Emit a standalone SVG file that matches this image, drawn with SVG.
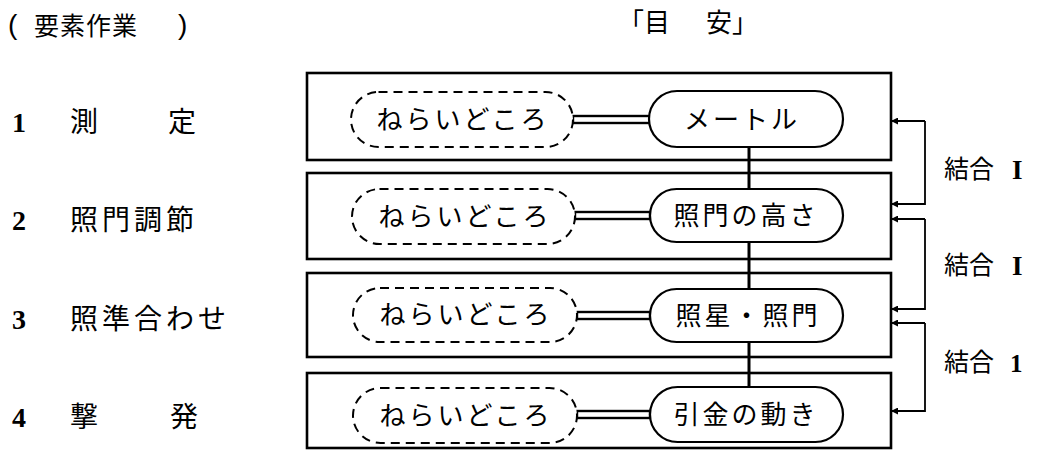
<svg xmlns="http://www.w3.org/2000/svg" width="1042" height="459" viewBox="0 0 1042 459">
<style>
.box{fill:none;stroke:#000;stroke-width:2.6}
.pill{fill:#fff;stroke:#000;stroke-width:2.2}
.dpill{fill:#fff;stroke:#000;stroke-width:2;stroke-dasharray:9 6}
.t{font-family:"Noto Sans CJK JP","Noto Sans CJK SC",sans-serif;fill:#000}
.pt{font-size:26px;letter-spacing:3px;text-anchor:middle}
.lt{font-size:28px}
.num{font-family:"Liberation Serif",serif;font-weight:bold;font-size:28px}
.fb{fill:none;stroke:#000;stroke-width:1.8}
.dbl{fill:#fff;stroke:#000;stroke-width:2.4}
</style>
<defs>
<marker id="ah" viewBox="0 0 10 10" refX="10" refY="5" markerWidth="9" markerHeight="7" markerUnits="userSpaceOnUse" orient="auto">
<path d="M0,0 L10,5 L0,10 z" fill="#000"/>
</marker>
</defs>
<rect width="1042" height="459" fill="#fff"/>
<g id="header">
<text x="8" y="34" font-family="Liberation Sans,sans-serif" font-size="28">(</text>
<text class="t" x="34" y="35" font-size="25" letter-spacing="1">要素作業</text>
<text x="178" y="34" font-family="Liberation Sans,sans-serif" font-size="28">)</text>
<text class="t" x="618" y="32" font-size="26">「目</text>
<text class="t" x="706" y="32" font-size="26">安」</text>
</g>
<g id="labels">
<text class="num" x="12" y="132">1</text>
<text class="t lt" x="70" y="132">測</text>
<text class="t lt" x="168" y="132">定</text>
<text class="num" x="12" y="230">2</text>
<text class="t lt" x="70" y="230" letter-spacing="4">照門調節</text>
<text class="num" x="12" y="329">3</text>
<text class="t lt" x="70" y="329" letter-spacing="4">照準合わせ</text>
<text class="num" x="12" y="427">4</text>
<text class="t lt" x="70" y="427">撃</text>
<text class="t lt" x="170" y="427">発</text>
</g>
<g id="connectors">
<line x1="749" y1="147" x2="749" y2="388" stroke="#000" stroke-width="3"/>
<rect class="dbl" x="573" y="116" width="77" height="7"/>
<rect class="dbl" x="575" y="212" width="75" height="7"/>
<rect class="dbl" x="577" y="312" width="73" height="7"/>
<rect class="dbl" x="577" y="411" width="73" height="7"/>
<path class="fb" d="M925,121 V204 H891" marker-end="url(#ah)"/>
<path class="fb" d="M925,121 H891" marker-end="url(#ah)"/>
<path class="fb" d="M925,219 V309 H891" marker-end="url(#ah)"/>
<path class="fb" d="M925,219 H891" marker-end="url(#ah)"/>
<path class="fb" d="M925,323 V411 H891" marker-end="url(#ah)"/>
<path class="fb" d="M925,323 H891" marker-end="url(#ah)"/>
<text class="t" x="944" y="178" font-size="25">結合</text>
<text x="1012" y="179" font-family="Liberation Serif,serif" font-weight="bold" font-size="27">I</text>
<text class="t" x="944" y="274" font-size="25">結合</text>
<text x="1012" y="275" font-family="Liberation Serif,serif" font-weight="bold" font-size="27">I</text>
<text class="t" x="944" y="371" font-size="25">結合</text>
<text x="1010" y="372" font-family="Liberation Serif,serif" font-weight="bold" font-size="25">1</text>
</g>
<g id="row1">
<rect class="box" x="307" y="73" width="584" height="87"/>
<rect class="dpill" x="351" y="92" width="222" height="55" rx="27.5"/>
<text class="t pt" x="463" y="129">ねらいどころ</text>
<rect class="pill" x="649" y="91" width="194" height="56" rx="28"/>
<text class="t pt" x="742" y="129" letter-spacing="10">メートル</text>
</g>
<g id="row2">
<rect class="box" x="307" y="173" width="584" height="86"/>
<rect class="dpill" x="352" y="189" width="223" height="55" rx="27.5"/>
<text class="t pt" x="465" y="226">ねらいどころ</text>
<rect class="pill" x="650" y="189" width="193" height="53" rx="26.5"/>
<text class="t pt" x="746" y="225" font-size="27">照門の高さ</text>
</g>
<g id="row3">
<rect class="box" x="307" y="273" width="584" height="84"/>
<rect class="dpill" x="353" y="288" width="224" height="54" rx="27"/>
<text class="t pt" x="466" y="324">ねらいどころ</text>
<rect class="pill" x="650" y="289" width="193" height="53" rx="26.5"/>
<text class="t pt" x="748" y="325" font-size="27">照星・照門</text>
</g>
<g id="row4">
<rect class="box" x="307" y="373" width="584" height="75"/>
<rect class="dpill" x="353" y="388" width="224" height="55" rx="27.5"/>
<text class="t pt" x="466" y="425">ねらいどころ</text>
<rect class="pill" x="650" y="387" width="193" height="55" rx="27.5"/>
<text class="t pt" x="746" y="424" font-size="27">引金の動き</text>
</g>
</svg>
